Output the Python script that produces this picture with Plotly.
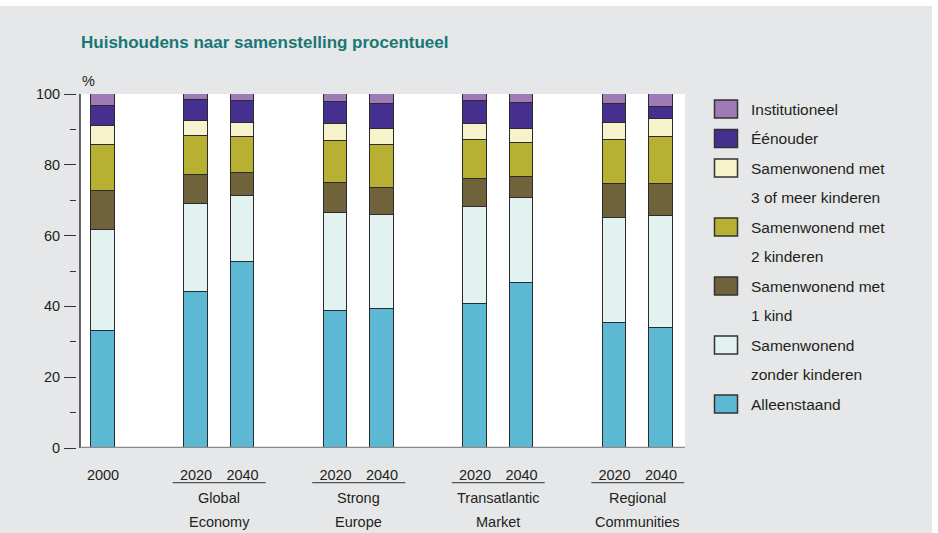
import plotly.graph_objects as go

# ---------------- data ----------------
bar_labels = ["2000", "2020", "2040", "2020", "2040", "2020", "2040", "2020", "2040"]
bar_pos = [0, 2, 3, 5, 6, 8, 9, 11, 12]
groups = [["Global", "Economy"], ["Strong", "Europe"], ["Transatlantic", "Market"], ["Regional", "Communities"]]
group_pos = [2.5, 5.5, 8.5, 11.5]

alleenstaand = [33.0, 44.1, 52.6, 38.6, 39.4, 40.8, 46.5, 35.3, 33.8]
zonder_kinderen = [28.6, 24.9, 18.7, 27.7, 26.5, 27.2, 24.2, 29.8, 31.7]
een_kind = [10.9, 8.1, 6.3, 8.5, 7.6, 8.1, 5.9, 9.5, 9.1]
twee_kinderen = [13.1, 10.9, 10.3, 11.8, 12.0, 11.0, 9.6, 12.5, 13.3]
drie_kinderen = [5.5, 4.4, 3.9, 4.8, 4.7, 4.3, 3.9, 4.8, 5.0]
eenouder = [5.6, 5.9, 6.2, 6.4, 6.9, 6.6, 7.4, 5.4, 3.4]
institutioneel = [3.3, 1.7, 2.0, 2.2, 2.9, 2.0, 2.5, 2.7, 3.7]

series = [
    ("Alleenstaand", alleenstaand, "#5db8d3"),
    ("Samenwonend<br>zonder kinderen", zonder_kinderen, "#e2f2f0"),
    ("Samenwonend met<br>1 kind", een_kind, "#70633b"),
    ("Samenwonend met<br>2 kinderen", twee_kinderen, "#b7b032"),
    ("Samenwonend met<br>3 of meer kinderen", drie_kinderen, "#f5f2cc"),
    ("Éénouder", eenouder, "#46308f"),
    ("Institutioneel", institutioneel, "#9f7bb5"),
]
y_ticks = [0, 20, 40, 60, 80, 100]

# ---------------- layout helpers ----------------
W, H = 938, 533
L, R, T, B = 77, 685, 94, 448   # plot area in pixels
PW, PH = R - L, B - T
def px(x):   # pixel -> paper x
    return (x - L) / PW
def py(y):   # pixel -> paper y
    return (B - y) / PH

FONT = "Liberation Sans, Arial, sans-serif"
TXT = "#231f20"
GRAY = "#e6e7e8"
UNIT = 46.5  # pixels per x unit

fig = go.Figure()
for name, vals, col in series:
    fig.add_trace(go.Bar(
        x=bar_pos, y=vals, name=name, width=0.5,
        marker=dict(color=col, line=dict(color="#2b2b2b", width=1.5)),
        showlegend=False,
    ))

shapes = []
annotations = []
# gray page background with white strips at top and right
shapes.append(dict(type="rect", xref="paper", yref="paper", x0=px(0), x1=px(932), y0=py(H), y1=py(6),
                   fillcolor=GRAY, line=dict(width=0), layer="below"))
# white plot panel
shapes.append(dict(type="rect", xref="paper", yref="y", x0=px(80), x1=1, y0=0, y1=100,
                   fillcolor="white", line=dict(width=0), layer="below"))
# y axis line
shapes.append(dict(type="line", xref="paper", yref="y", x0=px(80), x1=px(80), y0=0, y1=100,
                   line=dict(color="#333333", width=1.5)))
# x axis line
shapes.append(dict(type="line", xref="paper", yref="y", x0=px(80), x1=1, y0=0, y1=0,
                   line=dict(color="#8a8a8a", width=2.5)))

# group underlines and names
for gp, gname in zip(group_pos, groups):
    shapes.append(dict(type="line", xref="x", yref="paper", x0=gp - 1, x1=gp + 1,
                       y0=py(482.7), y1=py(482.7), line=dict(color="#555555", width=1.3)))
    for i, ln in enumerate(gname):
        annotations.append(dict(x=gp, y=py(498 + 23.5 * i), xref="x", yref="paper", text=ln,
                                showarrow=False, xanchor="center", yanchor="middle",
                                font=dict(family=FONT, size=14.5, color=TXT)))

# title and unit
annotations.append(dict(x=px(79), y=py(42), xref="paper", yref="paper",
                        text="<b>Huishoudens naar samenstelling procentueel</b>",
                        showarrow=False, xanchor="left", yanchor="middle",
                        font=dict(family=FONT, size=17, color="#177776")))
annotations.append(dict(x=px(80), y=py(81), xref="paper", yref="paper", text="%",
                        showarrow=False, xanchor="left", yanchor="middle",
                        font=dict(family=FONT, size=14.5, color=TXT)))

# manual legend
legend_rows = [
    ("Institutioneel", "#9f7bb5", 109),
    ("Éénouder", "#46308f", 138.5),
    ("Samenwonend met<br>3 of meer kinderen", "#f5f2cc", 168),
    ("Samenwonend met<br>2 kinderen", "#b7b032", 227),
    ("Samenwonend met<br>1 kind", "#70633b", 286),
    ("Samenwonend<br>zonder kinderen", "#e2f2f0", 345),
    ("Alleenstaand", "#5db8d3", 404),
]
for text, col, cy in legend_rows:
    shapes.append(dict(type="rect", xref="paper", yref="paper", x0=px(714.5), x1=px(737.5),
                       y0=py(cy + 9), y1=py(cy - 9), fillcolor=col,
                       line=dict(color="#333333", width=1.5)))
    for i, ln in enumerate(text.split("<br>")):
        annotations.append(dict(x=px(749), y=py(cy + 29.5 * i), xref="paper", yref="paper",
                                text=ln, showarrow=False, xanchor="left", yanchor="middle",
                                font=dict(family=FONT, size=15.5, color=TXT)))

fig.update_layout(
    width=W, height=H,
    margin=dict(l=L, r=W - R, t=T, b=H - B, pad=0),
    paper_bgcolor="white", plot_bgcolor=GRAY,
    barmode="stack", bargap=0,
    font=dict(family=FONT, size=14.5, color=TXT),
    shapes=shapes, annotations=annotations,
    showlegend=False,
)
fig.update_xaxes(
    range=[-(103 - L) / UNIT, (R - 103) / UNIT],
    tickvals=bar_pos, ticktext=bar_labels, ticks="", showline=False,
    showgrid=False, zeroline=False, ticklabelstandoff=16,
    tickfont=dict(family=FONT, size=14.5, color=TXT), fixedrange=True,
)
fig.update_yaxes(
    range=[0, 100], tickvals=y_ticks, ticks="outside", ticklen=12, tickwidth=1.2,
    tickcolor="#333333", showline=False, showgrid=False, zeroline=False,
    minor=dict(tickvals=[10, 30, 50, 70, 90], ticks="outside", ticklen=6, tickwidth=1.2, tickcolor="#333333"),
    tickfont=dict(family=FONT, size=14.5, color=TXT), ticklabelstandoff=1, fixedrange=True,
)

fig.write_html(
    "out.html",
    config={"displayModeBar": False},
    post_script="document.body.style.margin='0';document.body.style.overflow='hidden';",
)
